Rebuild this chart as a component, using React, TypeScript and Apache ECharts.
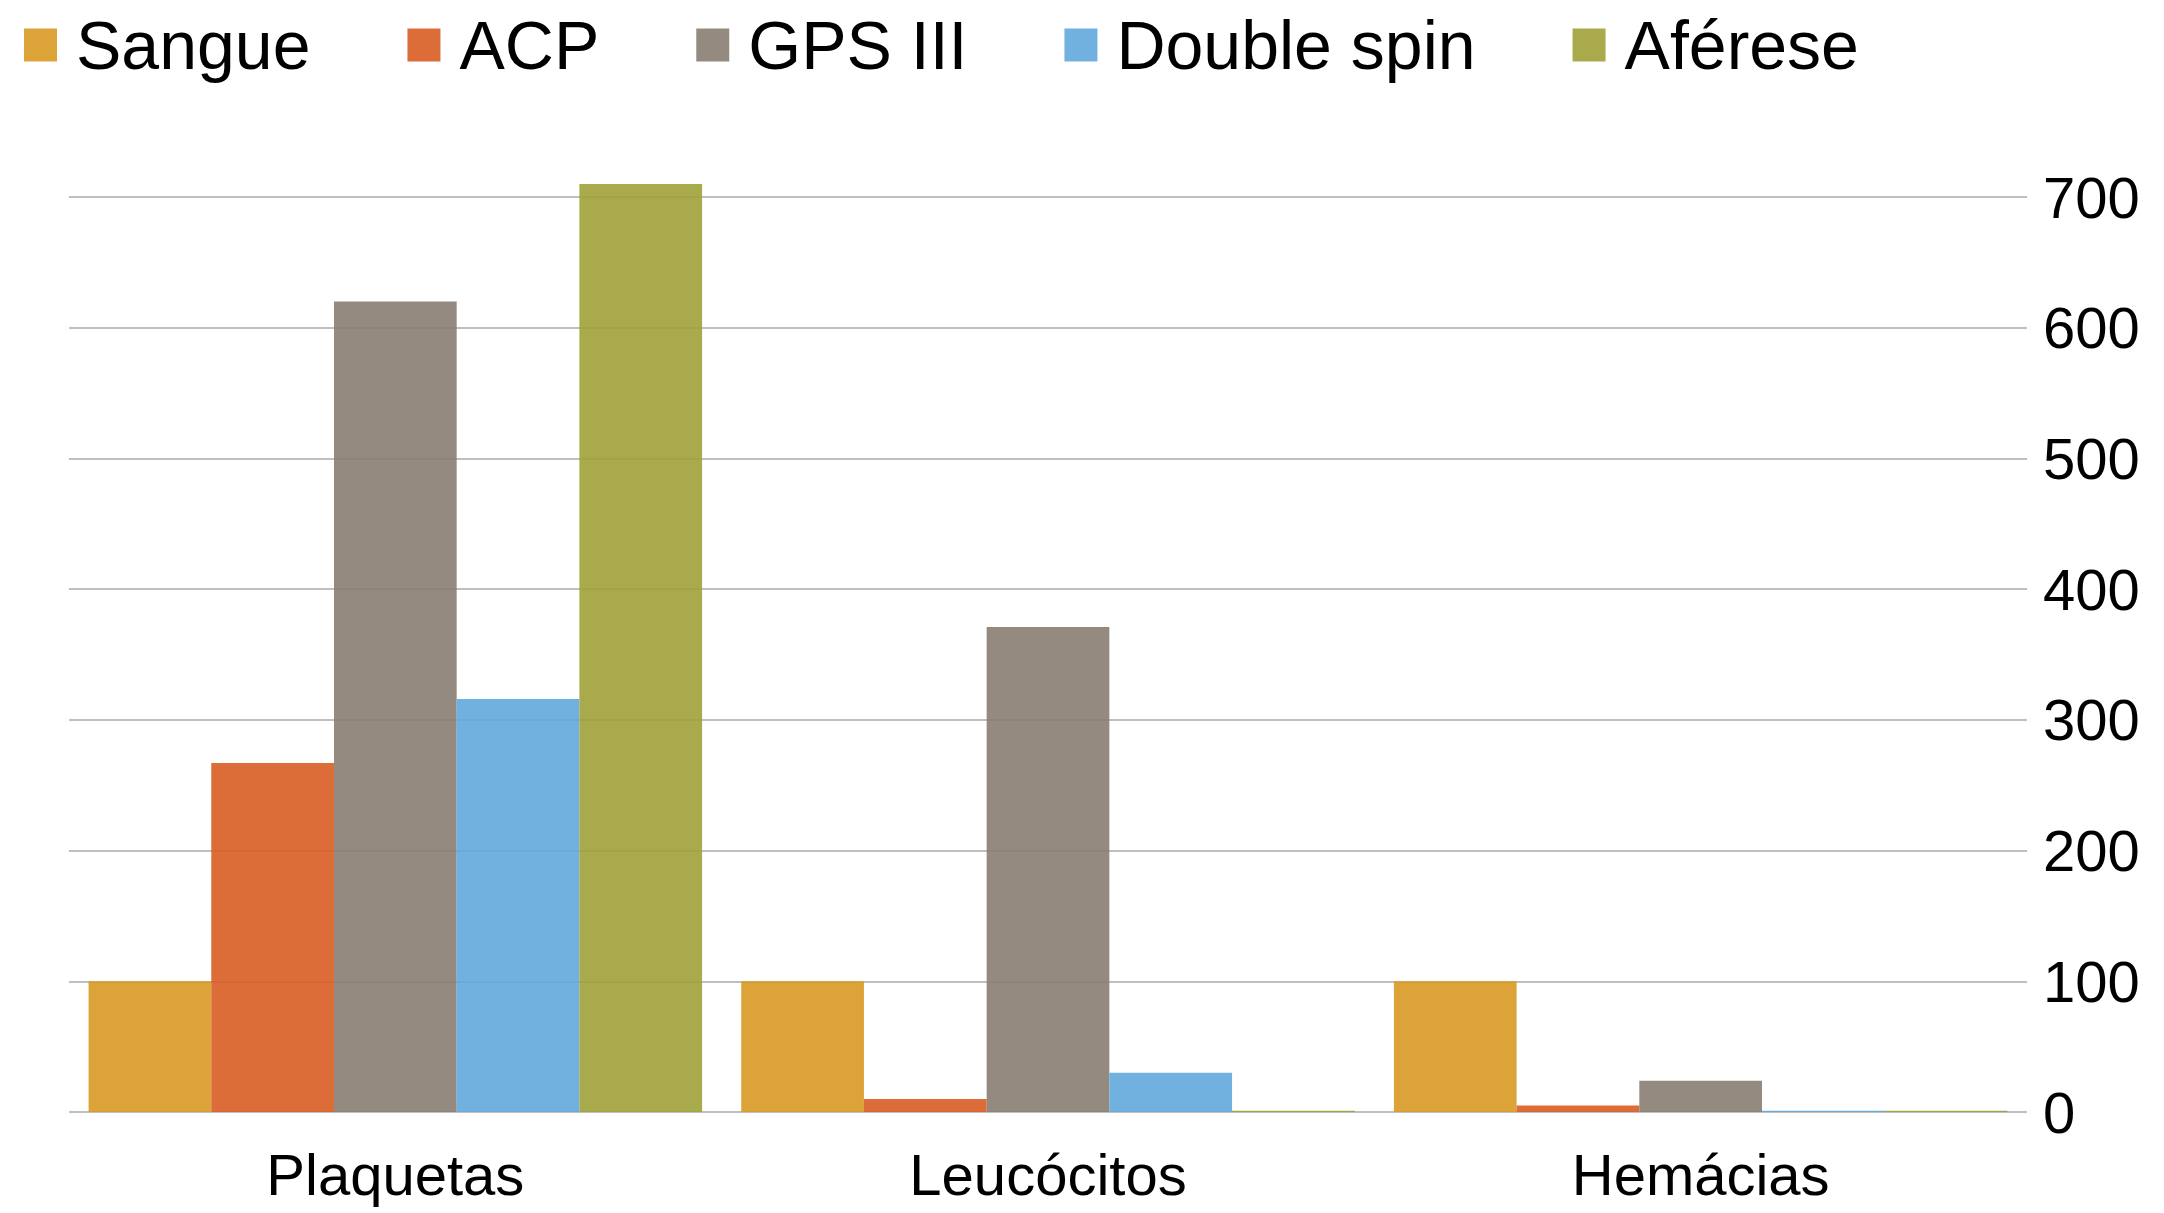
import React, { useEffect, useRef } from "react";
import * as echarts from "echarts";

const categories = ["Plaquetas", "Leucócitos", "Hemácias"];
const seriesNames = ["Sangue", "ACP", "GPS III", "Double spin", "Aférese"];
const sangue = [100, 100, 100];
const acp = [267, 10, 5];
const gps = [620, 371, 24];
const doubleSpin = [316, 30, 1];
const aferese = [710, 1, 1];
const yTicks = [0, 100, 200, 300, 400, 500, 600, 700];
const colors = ["#D89924", "#D85C22", "#887D72", "#62A9DC", "#9EA138"];

export default function App() {
  const ref = useRef<HTMLDivElement>(null);
  useEffect(() => {
    if (!ref.current) return;
    const chart = echarts.init(ref.current, undefined, { renderer: "svg" });
    const font = "'Liberation Sans', Arial, sans-serif";
    const values = [sangue, acp, gps, doubleSpin, aferese];
    chart.setOption({
      animation: false,
      backgroundColor: "#ffffff",
      color: colors,
      textStyle: { fontFamily: font },
      legend: {
        show: true,
        left: 19,
        top: 6,
        itemWidth: 33,
        itemHeight: 33,
        itemGap: 97,
        icon: "rect",
        data: seriesNames,
        textStyle: { fontSize: 68, color: "#000", fontFamily: font, padding: [0, 0, 0, 14] },
      },
      grid: { left: 69, right: 137, top: 197, bottom: 101 },
      xAxis: {
        type: "category",
        data: categories,
        axisLine: { show: false },
        axisTick: { show: false },
        axisLabel: { fontSize: 58, color: "#000", margin: 33, fontFamily: font },
      },
      yAxis: {
        type: "value",
        position: "right",
        min: yTicks[0],
        max: yTicks[yTicks.length - 1],
        interval: 100,
        axisLine: { show: false },
        axisTick: { show: false },
        axisLabel: { fontSize: 58, color: "#000", margin: 16, fontFamily: font },
        splitLine: { lineStyle: { color: "#BFBFBF", width: 2 } },
      },
      series: seriesNames.map((name, i) => ({
        name,
        type: "bar",
        data: values[i],
        barGap: "0%",
        barCategoryGap: "6%",
        clip: false,
        itemStyle: { color: colors[i], opacity: 0.9 },
      })),
    });
    return () => chart.dispose();
  }, []);
  return (
    <div
      ref={ref}
      style={{ position: "absolute", left: 0, top: 0, width: 2164, height: 1213 }}
    />
  );
}
